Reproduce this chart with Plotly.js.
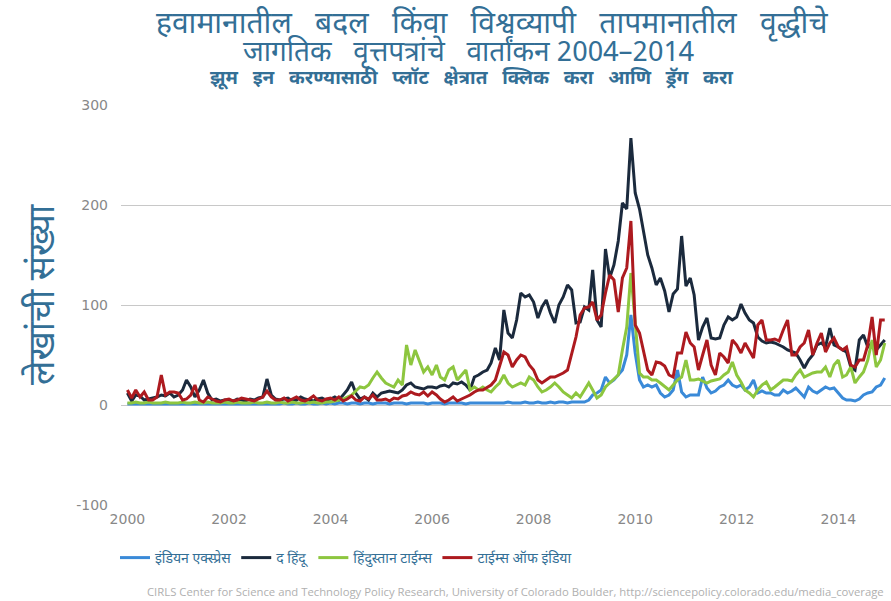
<!DOCTYPE html>
<html><head><meta charset="utf-8">
<script src="https://cdn.plot.ly/plotly-3.0.1.min.js"></script>
<style>body{margin:0;background:#fff}#chart{width:891px;height:601px}</style>
</head><body><div id="chart"></div>
<script>
const startYear = 2000, endYear = 2014;
const seriesNames = ['इंडियन एक्स्प्रेस', 'द हिंदू', 'हिंदुस्तान टाईम्स', 'टाईम्स ऑफ इंडिया'];
const indianExpress = [
1,1,1,1,1,1,1,1,1,1,1,1,
1,1,1,1,1,1,1,1,1,1,1,1,
1,1,1,1,1,1,1,1,1,1,1,1,
1,2,1,1,2,1,1,2,1,1,2,1,
2,1,2,2,1,2,2,1,2,2,1,2,
2,2,1,2,2,2,1,2,2,2,2,1,
2,2,2,1,2,2,2,2,1,2,2,2,
2,2,2,2,2,2,3,2,2,2,3,2,
2,3,2,2,3,2,3,3,2,3,3,3,
3,5,10,12,15,28,22,25,30,35,50,90,
52,25,18,20,18,20,12,8,10,15,35,13,
8,10,10,10,28,17,12,14,18,20,25,20,
18,20,15,18,25,12,14,12,12,10,10,15,
12,14,17,12,8,18,14,12,15,18,16,17,
12,7,5,5,4,6,10,12,13,18,20,27];
const theHindu = [
12,4,10,9,5,6,7,8,10,9,12,8,
10,15,25,18,8,15,25,12,5,6,4,5,
5,4,6,5,4,6,5,7,8,26,10,6,
5,6,7,4,5,8,6,5,4,6,7,5,
6,8,5,10,15,23,12,6,8,5,12,8,
12,13,14,13,12,15,20,22,18,17,16,18,
18,17,19,20,18,22,21,23,20,15,28,30,
33,35,42,57,45,95,72,67,85,112,108,110,
103,87,98,105,92,82,100,108,120,115,82,83,
98,95,135,85,78,156,127,140,164,202,196,267,
212,196,175,150,137,120,127,114,93,111,116,169,
119,127,110,65,78,87,67,66,67,80,88,85,
88,101,92,85,82,68,64,62,63,62,60,58,
55,53,52,45,37,45,50,60,62,58,77,60,
58,55,53,38,35,65,70,58,62,55,60,65];
const hindustanTimes = [
2,2,3,2,2,3,2,2,2,3,2,2,
2,3,2,2,3,2,2,3,2,2,2,3,
2,2,3,2,2,2,3,2,2,3,2,2,
3,2,2,3,2,2,3,2,3,2,2,3,
3,4,5,6,8,10,14,18,17,20,27,33,
27,22,20,18,25,20,60,40,55,45,33,38,
30,40,28,25,35,38,25,30,35,15,18,15,
18,15,13,18,22,30,22,18,20,22,20,28,
25,18,13,15,18,22,18,13,10,7,12,8,
15,22,15,7,10,18,22,26,30,55,78,132,
85,32,28,28,25,25,22,18,15,20,25,28,
45,25,25,26,24,22,24,25,26,30,33,43,
30,23,15,12,8,15,20,23,15,18,22,25,
25,24,30,35,28,30,32,33,33,38,28,40,
45,28,30,38,22,28,33,45,65,38,45,62];
const timesOfIndia = [
15,7,15,8,13,5,5,8,30,10,13,13,
12,5,6,10,20,5,3,8,6,4,3,5,
6,4,5,7,6,5,4,6,8,14,8,5,
5,7,4,6,8,5,4,6,9,5,4,6,
7,5,8,4,6,9,5,4,8,6,10,5,
5,6,4,7,6,9,10,13,11,10,13,9,
13,10,6,3,5,8,4,6,8,10,13,15,
15,18,20,25,38,53,50,38,45,50,48,40,
35,25,22,25,28,28,30,32,35,52,68,90,
97,98,103,85,90,112,130,125,93,127,137,184,
80,72,55,35,30,43,42,39,30,28,52,52,
73,62,58,35,50,65,40,30,52,48,42,65,
60,52,62,55,47,80,85,65,65,66,64,75,
85,50,50,58,62,75,50,62,72,53,62,67,
58,55,58,40,38,45,45,60,88,50,85,85];
const yTickVals = [-100, 0, 100, 200, 300];
const yTickText = ['-100', '0', '100', '200', '300'];
const gap = '\u00a0\u00a0 ';
const titleLine1 = ['हवामानातील', 'बदल', 'किंवा', 'विश्वव्यापी', 'तापमानातील', 'वृद्धीचे'].join(gap);
const titleLine2 = ['जागतिक', 'वृत्तपत्रांचे', 'वार्तांकन 2004–2014'].join(gap);
const subtitle = ['झूम', 'इन', 'करण्यासाठी', 'प्लॉट', 'क्षेत्रात', 'क्लिक', 'करा', 'आणि', 'ड्रॅग', 'करा'].join(gap);
const yTitle = 'लेखांची संख्या';
const credit = 'CIRLS Center for Science and Technology Policy Research, University of Colorado Boulder, http://sciencepolicy.colorado.edu/media_coverage';

const months = [];
for (let y = startYear; y <= endYear; y++) {
  for (let m = 1; m <= 12; m++) months.push(y + '-' + String(m).padStart(2, '0') + '-01');
}
const colors = ['#3a8ad8', '#1b2a3d', '#8dc63f', '#ad1a1f'];
const dataSets = [indianExpress, theHindu, hindustanTimes, timesOfIndia];
const traces = dataSets.map((d, i) => ({
  x: months, y: d, type: 'scatter', mode: 'lines', name: seriesNames[i],
  line: {color: colors[i], width: 3}
}));
const dev = 'Noto Sans Devanagari, Lohit Devanagari, FreeSans, Noto Sans, sans-serif';
const titleColor = '#336f96';
const T = 105, B = 505, H = B - T, L = 121, W = 770;
const px = x => (x - L) / W, py = y => (B - y) / H;
const layout = {
  width: 891, height: 601,
  margin: {l: L, r: 0, t: T, b: 601 - B},
  paper_bgcolor: '#fff', plot_bgcolor: '#fff',
  showlegend: true,
  legend: {orientation: 'h', x: px(115), xanchor: 'left', y: py(558), yanchor: 'middle',
    font: {family: dev, size: 14, color: titleColor}},
  xaxis: {type: 'date', range: ['1999-11-16', '2015-01-15'], dtick: 'M24', tick0: '2000-01-01',
    tickformat: '%Y', showgrid: false, zeroline: false, showline: false,
    ticks: '', ticklabelstandoff: 4,
    tickfont: {family: 'DejaVu Sans, sans-serif', size: 14, color: '#888'}},
  yaxis: {range: [-100, 300], tickvals: yTickVals, ticktext: yTickText,
    showgrid: true, gridcolor: '#c8c8c8', gridwidth: 1,
    zeroline: false, showline: false, ticks: '', ticklabelstandoff: 12,
    tickfont: {family: 'DejaVu Sans, sans-serif', size: 14, color: '#888'}},
  annotations: [
    {text: titleLine1, xref: 'paper', yref: 'paper',
     x: px(492), y: py(25), xanchor: 'center', yanchor: 'middle', showarrow: false,
     font: {family: dev, size: 30, color: titleColor}},
    {text: titleLine2, xref: 'paper', yref: 'paper',
     x: px(468), y: py(53), xanchor: 'center', yanchor: 'middle', showarrow: false,
     font: {family: dev, size: 28, color: titleColor}},
    {text: '<b>' + subtitle + '</b>', xref: 'paper', yref: 'paper',
     x: px(471), y: py(79), xanchor: 'center', yanchor: 'middle', showarrow: false,
     font: {family: dev, size: 19, color: titleColor}},
    {text: yTitle, xref: 'paper', yref: 'paper', textangle: -90,
     x: px(45), y: py(295), xanchor: 'center', yanchor: 'middle', showarrow: false,
     font: {family: dev, size: 36, color: titleColor}},
    {text: credit, xref: 'paper', yref: 'paper', x: px(886), y: py(591),
     xanchor: 'right', yanchor: 'middle', showarrow: false,
     font: {family: 'Open Sans, sans-serif', size: 11.3, color: '#b0b0b0'}}
  ]
};
Plotly.newPlot('chart', traces, layout, {displayModeBar: false, staticPlot: true});
</script></body></html>
